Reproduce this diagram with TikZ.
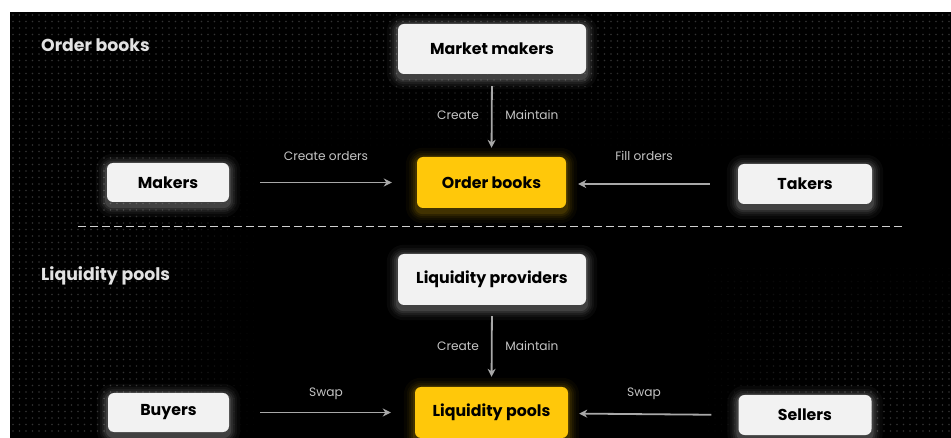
\documentclass[tikz,border=0pt]{standalone}
\usepackage{fontspec}
\setmainfont{Poppins}
\usetikzlibrary{arrows.meta}
\pgfdeclarelayer{dotl}
\pgfdeclarelayer{glowl}
\pgfsetlayers{dotl,glowl,main}
\definecolor{boxw}{HTML}{F2F2F2}
\definecolor{boxy}{HTML}{FFC80A}
\definecolor{arrg}{HTML}{A8A8A8}
\definecolor{lblg}{HTML}{C4C4C4}
\definecolor{ttlg}{HTML}{E2E2E2}
\definecolor{dashg}{HTML}{D0D0D0}
\newcommand\glowbox[2]{%
  \begin{pgfonlayer}{glowl}
    \foreach \gs/\go in {11/0.03,8/0.04,6/0.05,4/0.07,2/0.10}{
      \fill[#2, opacity=\go, rounded corners=6pt+\gs pt]
        ([xshift=-\gs pt, yshift=\gs pt-2pt]#1.north west) rectangle
        ([xshift=\gs pt, yshift=-\gs pt-4pt]#1.south east);}
  \end{pgfonlayer}}
\begin{document}
\begin{tikzpicture}[x=1pt,y=-1pt,
  wbox/.style={fill=boxw, rounded corners=6pt, inner sep=0pt, text=black,
    font=\bfseries\fontsize{15.8}{18}\selectfont},
  ybox/.style={wbox, fill=boxy},
  lbl/.style={text=lblg, font=\fontsize{12.2}{14}\selectfont, inner sep=0pt},
  ttl/.style={text=ttlg, font=\bfseries\fontsize{17.3}{20}\selectfont, inner sep=0pt, anchor=base west},
  arr/.style={draw=arrg, line width=1.8pt, -{Stealth[length=8pt,width=8pt,inset=2.5pt]}},
]
\useasboundingbox (0,0) rectangle (951,438);
\begin{pgfonlayer}{dotl}
  \fill[white] (0,0) rectangle (951,438);
  \fill[black] (10,12) rectangle (951,438);
  \foreach \i in {0,...,144}{
    \foreach \j in {0,...,64}{
      \edef\dotX{\fpeval{13+6.5*\i}}%
      \edef\dotY{\fpeval{15+6.5*\j}}%
      \edef\dotP{\fpeval{round(100*max(0,min(1,max((260-\dotX)/140,(150-\dotY)/90,min((\dotX-700)/150,(\dotY-260)/120)))),0)}}%
      \ifnum\dotP>0
        \edef\dotG{\fpeval{round(0.2*\dotP,1)}}%
        \fill[white!\dotG!black] (\dotX,\dotY) circle (0.85);
      \fi
    }}
\end{pgfonlayer}

% titles
\node[ttl] (t1) at (41,52) {Order books};
\node[ttl] (t2) at (41,281) {Liquidity pools};

% upper section
\node[wbox, minimum width=188pt, minimum height=50pt] (mm) at (492,49) {Market makers};
\node[ybox, minimum width=149pt, minimum height=51pt] (ob) at (491.5,182.5) {Order books};
\node[wbox, minimum width=122pt, minimum height=39pt] (mk) at (168,182.5) {Makers};
\node[wbox, minimum width=134pt, minimum height=40pt] (tk) at (805,184) {Takers};
\glowbox{mm}{white}
\glowbox{ob}{boxy}
\glowbox{mk}{white}
\glowbox{tk}{white}

\draw[arr, shorten <=12pt, shorten >=9pt] (mm.south) -- (ob.north);
\draw[arr, shorten <=31pt, shorten >=25pt] (mk.east) -- (mk.east -| ob.west);
\draw[arr, shorten <=28pt, shorten >=12pt] (tk.west) -- (tk.west -| ob.east);
\node[lbl] (l1) at (458,115) {Create};
\node[lbl] (l2) at (532,115) {Maintain};
\node[lbl] (l3) at (326,156) {Create orders};
\node[lbl] (l4) at (644,156) {Fill orders};

% divider
\coordinate (d1) at (78,227);
\coordinate (d2) at (905,227);
\draw[dashg, line width=1pt, dash pattern=on 8pt off 4pt] (d1) -- (d2);

% lower section
\node[wbox, minimum width=188pt, minimum height=51pt] (lp) at (492,279.5) {Liquidity providers};
\node[ybox, minimum width=153pt, minimum height=51pt] (pl) at (491.5,412.5) {Liquidity pools};
\node[wbox, minimum width=121pt, minimum height=39pt] (by) at (168.5,412.5) {Buyers};
\node[wbox, minimum width=133pt, minimum height=40pt] (sl) at (805,415) {Sellers};
\glowbox{lp}{white}
\glowbox{pl}{boxy}
\glowbox{by}{white}
\glowbox{sl}{white}

\draw[arr, shorten <=11pt, shorten >=10pt] (lp.south) -- (pl.north);
\draw[arr, shorten <=31pt, shorten >=24pt] (by.east) -- (by.east -| pl.west);
\draw[arr, shorten <=27pt, shorten >=11pt] (sl.west) -- ([yshift=1.5pt]sl.west -| pl.east);
\node[lbl] (l5) at (458,346) {Create};
\node[lbl] (l6) at (532,346) {Maintain};
\node[lbl] (l7) at (326,394) {Swap};
\node[lbl] (l8) at (644,394) {Swap};
\end{tikzpicture}
\end{document}
